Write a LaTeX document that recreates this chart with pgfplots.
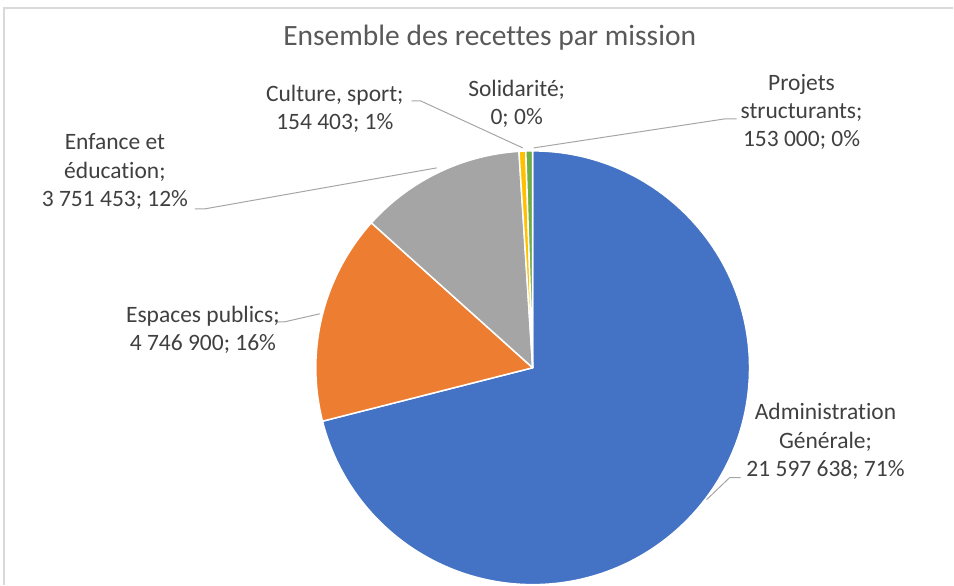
\documentclass[border=0pt]{standalone}
\usepackage{fontspec}
\setmainfont{Carlito}[Ligatures=NoCommon]
\usepackage{pgfplots}
\usepackage{pgfplotstable}
\pgfplotsset{compat=1.18}
\definecolor{cadm}{HTML}{4472C4}
\definecolor{cesp}{HTML}{ED7D31}
\definecolor{cenf}{HTML}{A5A5A5}
\definecolor{ccul}{HTML}{FFC000}
\definecolor{csol}{HTML}{5B9BD5}
\definecolor{cpro}{HTML}{70AD47}
\definecolor{labtxt}{HTML}{404040}
\definecolor{titletxt}{HTML}{595959}
\definecolor{leader}{HTML}{A6A6A6}
\definecolor{frame}{HTML}{D9D9D9}

\pgfplotstableread{
name value
adm 21597638
esp 4746900
enf 3751453
cul 154403
sol 0
pro 153000
}\recettes

\newcommand\fpcalc[2]{\begingroup\pgfkeys{/pgf/fpu=true,/pgf/fpu/output format=fixed}\pgfmathparse{#2}\xdef#1{\pgfmathresult}\endgroup}

\begin{document}
\gdef\total{0}%
\pgfplotsforeachungrouped \i in {0,1,2,3,4,5}{%
  \pgfplotstablegetelem{\i}{value}\of\recettes
  \fpcalc\total{\total+\pgfplotsretval}%
}%
\gdef\cum{0}%
\pgfplotsforeachungrouped \i in {0,1,2,3,4,5}{%
  \pgfplotstablegetelem{\i}{value}\of\recettes
  \fpcalc\startang{90-360*\cum/\total}%
  \fpcalc\cum{\cum+\pgfplotsretval}%
  \fpcalc\endang{90-360*\cum/\total}%
  \expandafter\xdef\csname angS\i\endcsname{\startang}%
  \expandafter\xdef\csname angE\i\endcsname{\endang}%
}%
\begin{tikzpicture}
\begin{axis}[
  x=1pt, y=1pt, scale only axis,
  xmin=0, xmax=954, ymin=0, ymax=585,
  hide axis, clip=false,
]
\path (axis cs:0,0) rectangle (axis cs:954,585);
% frame
\draw[frame, line width=1.2pt] (axis cs:4,0) -- (axis cs:4,577) -- (axis cs:954,577);
% pie slices
\def\slice#1#2{%
  \filldraw[fill=#2, draw=white, line width=1.5pt, line join=round]
    (axis cs:533,217) -- ++(\csname angS#1\endcsname:217pt)
    arc[start angle=\csname angS#1\endcsname, end angle=\csname angE#1\endcsname, radius=217pt] -- cycle;}
\slice{0}{cadm}
\slice{1}{cesp}
\slice{2}{cenf}
\slice{3}{ccul}
\slice{5}{cpro}
% title
\node[titletxt, font=\fontsize{29.5}{34}\selectfont] at (axis cs:490,547) {Ensemble des recettes par mission};
% leader lines
\begin{scope}[leader, line width=1pt]
\draw (axis cs:412,484) -- (axis cs:421,484) -- (axis cs:523,437);
\draw (axis cs:737,466) -- (axis cs:725,466) -- (axis cs:534,437);
\draw (axis cs:195,376) -- (axis cs:205,376) -- (axis cs:437,417);
\draw (axis cs:275,263) -- (axis cs:285,263) -- (axis cs:320,271);
\draw (axis cs:741,107) -- (axis cs:730,107) -- (axis cs:707,85);
\end{scope}
% labels
\begin{scope}[every node/.style={labtxt, align=center, font=\fontsize{23.5}{28.5}\selectfont, inner sep=0pt}]
\node at (axis cs:335,476) {Culture, sport;\\154 403; 1\%};
\node at (axis cs:517,481) {Solidarité;\\0; 0\%};
\node at (axis cs:802,473) {Projets\\structurants;\\153 000; 0\%};
\node at (axis cs:115,413) {Enfance et\\éducation;\\3 751 453; 12\%};
\node at (axis cs:203,255) {Espaces publics;\\4 746 900; 16\%};
\node at (axis cs:826,143) {Administration\\Générale;\\21 597 638; 71\%};
\end{scope}
\end{axis}
\end{tikzpicture}
\end{document}
